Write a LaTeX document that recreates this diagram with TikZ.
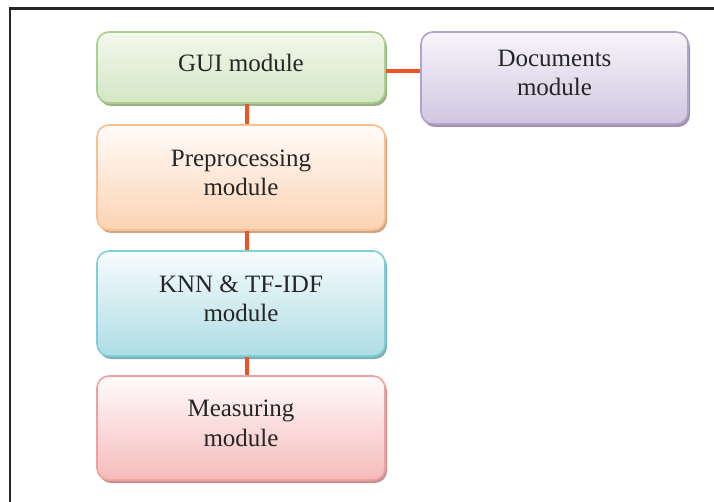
\documentclass[tikz,border=0pt]{standalone}
\usepackage{fontspec}
\setmainfont{Liberation Serif}
\usepackage{tikz}
\usetikzlibrary{calc,shadows}

\definecolor{guiline}{HTML}{A9CF8E}
\definecolor{guitop}{HTML}{F2F8EC}
\definecolor{guibot}{HTML}{D4E6C4}
\definecolor{docline}{HTML}{B3A2C9}
\definecolor{doctop}{HTML}{F7F5FA}
\definecolor{docbot}{HTML}{D0C6E0}
\definecolor{preline}{HTML}{FABF8F}
\definecolor{pretop}{HTML}{FFFCFA}
\definecolor{prebot}{HTML}{FCD3B2}
\definecolor{knnline}{HTML}{7FCFDA}
\definecolor{knntop}{HTML}{F8FCFD}
\definecolor{knnbot}{HTML}{ADDDE4}
\definecolor{mesline}{HTML}{F2A09F}
\definecolor{mestop}{HTML}{FFFBFB}
\definecolor{mesbot}{HTML}{F5BBBB}
\definecolor{linkred}{HTML}{F05323}

\tikzset{
  module/.style={rectangle,rounded corners=12pt,line width=1.6pt,align=center,
    font=\fontsize{25}{29.5}\selectfont,text depth=10pt,text=black!85,
    top color=#1top,bottom color=#1bot,draw=#1line,
    general shadow={fill=#1line!75!black!80,shadow xshift=2pt,shadow yshift=-3pt}},
  link/.style={draw=linkred,line width=4pt}
}

\begin{document}
\begin{tikzpicture}[x=1pt,y=-1pt]
  \useasboundingbox (0,0) rectangle (714,502);
  \draw[line width=2.5pt,black!85] (10,502) -- (10,8.5) -- (714,8.5);
  \node[module=gui,minimum width=288pt,minimum height=71pt](gui)at(241,67.5){GUI module};
  \node[module=doc,minimum width=267pt,minimum height=92pt](docs)at(554.5,78){Documents\\module};
  \node[module=pre,minimum width=288pt,minimum height=105pt](prep)at(241,177.5){Preprocessing\\module};
  \node[module=knn,minimum width=288pt,minimum height=105pt](knn)at(241,303.5){KNN \& TF-IDF\\module};
  \node[module=mes,minimum width=288pt,minimum height=104pt](meas)at(241,428){Measuring\\module};
  \draw[link] ([yshift=-4pt]gui.east) -- ([yshift=-4pt]gui.east -| docs.west);
  \draw[link] ([xshift=6pt]gui.south) -- ([xshift=6pt]prep.north);
  \draw[link] ([xshift=6pt]prep.south) -- ([xshift=6pt]knn.north);
  \draw[link] ([xshift=6pt]knn.south) -- ([xshift=6pt]meas.north);
\end{tikzpicture}
\end{document}
